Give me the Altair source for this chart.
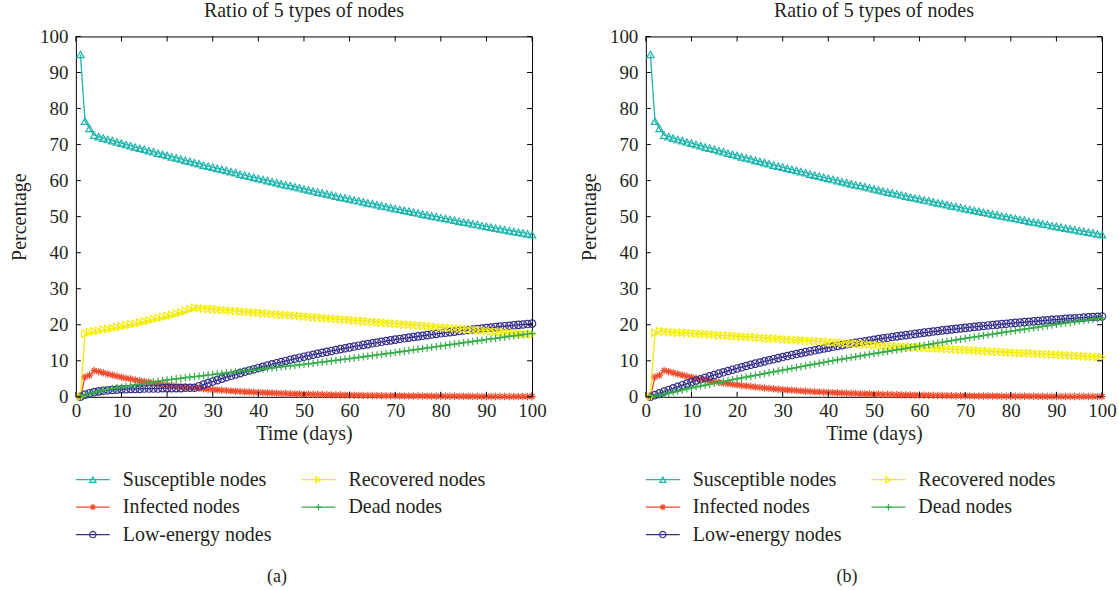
import altair as alt
import pandas as pd

# ---------------- data ----------------
days = list(range(1, 101))

susceptible = [
    95.0, 76.5, 74.5, 72.6, 72.2, 71.8, 71.4, 71.1, 70.7, 70.4,
    70.0, 69.7, 69.3, 69.0, 68.7, 68.3, 68.0, 67.6, 67.3, 67.0,
    66.6, 66.3, 66.0, 65.6, 65.3, 65.0, 64.7, 64.3, 64.0, 63.7,
    63.4, 63.1, 62.8, 62.5, 62.2, 61.8, 61.5, 61.2, 60.9, 60.6,
    60.3, 60.0, 59.7, 59.4, 59.1, 58.8, 58.6, 58.3, 58.0, 57.7,
    57.4, 57.1, 56.8, 56.6, 56.3, 56.0, 55.7, 55.4, 55.2, 54.9,
    54.6, 54.4, 54.1, 53.8, 53.6, 53.3, 53.0, 52.8, 52.5, 52.2,
    52.0, 51.7, 51.5, 51.2, 51.0, 50.7, 50.5, 50.2, 50.0, 49.7,
    49.5, 49.2, 49.0, 48.7, 48.5, 48.3, 48.0, 47.8, 47.5, 47.3,
    47.1, 46.8, 46.6, 46.4, 46.1, 45.9, 45.7, 45.5, 45.2, 45.0,
]

infected = [
    0.0, 5.5, 6.0, 7.3, 7.0, 6.66, 6.33, 6.02, 5.73, 5.45,
    5.18, 4.93, 4.69, 4.46, 4.24, 4.04, 3.84, 3.65, 3.48, 3.31,
    3.15, 2.99, 2.85, 2.71, 2.58, 2.45, 2.33, 2.22, 2.11, 2.00,
    1.91, 1.81, 1.73, 1.64, 1.56, 1.49, 1.41, 1.34, 1.28, 1.22,
    1.16, 1.10, 1.05, 1.00, 0.95, 0.90, 0.86, 0.82, 0.78, 0.74,
    0.70, 0.67, 0.64, 0.61, 0.58, 0.55, 0.52, 0.50, 0.47, 0.45,
    0.43, 0.41, 0.39, 0.37, 0.35, 0.33, 0.32, 0.30, 0.29, 0.27,
    0.26, 0.25, 0.23, 0.22, 0.21, 0.20, 0.19, 0.18, 0.17, 0.16,
    0.16, 0.15, 0.14, 0.13, 0.13, 0.12, 0.11, 0.11, 0.10, 0.10,
    0.09, 0.09, 0.08, 0.08, 0.08, 0.07, 0.07, 0.07, 0.06, 0.06,
]

low_energy_a = [
    0.0, 0.6, 1.0, 1.3, 1.5, 1.7, 1.8, 1.9, 2.0, 2.1,
    2.1, 2.2, 2.2, 2.2, 2.3, 2.3, 2.3, 2.3, 2.4, 2.4,
    2.4, 2.4, 2.4, 2.5, 2.5, 2.5, 2.94, 3.38, 3.81, 4.23,
    4.64, 5.04, 5.44, 5.83, 6.21, 6.58, 6.95, 7.31, 7.66, 8.01,
    8.35, 8.68, 9.01, 9.33, 9.65, 9.96, 10.27, 10.57, 10.85, 11.13,
    11.41, 11.68, 11.95, 12.21, 12.47, 12.73, 12.98, 13.23, 13.48, 13.72,
    13.95, 14.18, 14.41, 14.63, 14.85, 15.06, 15.27, 15.47, 15.67, 15.86,
    16.05, 16.24, 16.42, 16.60, 16.78, 16.95, 17.13, 17.30, 17.47, 17.63,
    17.79, 17.95, 18.10, 18.25, 18.40, 18.54, 18.68, 18.82, 18.96, 19.09,
    19.22, 19.35, 19.47, 19.60, 19.72, 19.84, 19.96, 20.07, 20.19, 20.30,
]

recovered_a = [
    0.0, 17.5, 17.9, 18.1, 18.3, 18.6, 18.8, 19.0, 19.3, 19.5,
    19.8, 20.1, 20.3, 20.6, 20.9, 21.2, 21.5, 21.8, 22.1, 22.4,
    22.7, 23.1, 23.4, 23.8, 24.2, 24.7, 24.6, 24.5, 24.4, 24.3,
    24.2, 24.1, 24.0, 23.9, 23.8, 23.7, 23.6, 23.5, 23.4, 23.3,
    23.2, 23.1, 23.0, 22.9, 22.8, 22.7, 22.6, 22.5, 22.4, 22.3,
    22.2, 22.1, 22.0, 21.9, 21.8, 21.7, 21.6, 21.5, 21.4, 21.3,
    21.2, 21.1, 21.0, 20.9, 20.8, 20.7, 20.6, 20.5, 20.4, 20.3,
    20.2, 20.1, 20.0, 19.9, 19.8, 19.7, 19.6, 19.5, 19.4, 19.3,
    19.2, 19.1, 19.0, 18.9, 18.8, 18.7, 18.6, 18.5, 18.4, 18.3,
    18.2, 18.1, 18.0, 17.9, 17.8, 17.7, 17.6, 17.5, 17.4, 17.3,
]

dead_a = [
    0.0, 0.5, 0.9, 1.2, 1.5, 1.8, 2.0, 2.3, 2.5, 2.7,
    2.9, 3.1, 3.3, 3.5, 3.7, 3.9, 4.1, 4.3, 4.5, 4.7,
    4.85, 5.0, 5.15, 5.3, 5.45, 5.6, 5.75, 5.9, 6.05, 6.2,
    6.34, 6.48, 6.62, 6.76, 6.90, 7.04, 7.18, 7.32, 7.46, 7.6,
    7.74, 7.88, 8.02, 8.16, 8.30, 8.44, 8.58, 8.72, 8.86, 9.0,
    9.16, 9.32, 9.48, 9.64, 9.80, 9.96, 10.12, 10.28, 10.44, 10.6,
    10.77, 10.94, 11.11, 11.28, 11.45, 11.62, 11.79, 11.96, 12.13, 12.3,
    12.48, 12.66, 12.84, 13.02, 13.20, 13.38, 13.56, 13.74, 13.92, 14.1,
    14.28, 14.46, 14.64, 14.82, 15.0, 15.18, 15.36, 15.54, 15.72, 15.9,
    16.07, 16.24, 16.41, 16.58, 16.75, 16.92, 17.09, 17.26, 17.43, 17.6,
]

low_energy_b = [
    0.0, 0.49, 0.96, 1.43, 1.89, 2.34, 2.79, 3.22, 3.65, 4.07,
    4.49, 4.89, 5.29, 5.68, 6.06, 6.43, 6.80, 7.17, 7.52, 7.87,
    8.21, 8.55, 8.88, 9.20, 9.52, 9.83, 10.14, 10.44, 10.73, 11.03,
    11.31, 11.59, 11.87, 12.13, 12.40, 12.66, 12.91, 13.16, 13.41, 13.65,
    13.88, 14.12, 14.34, 14.57, 14.79, 15.00, 15.22, 15.42, 15.63, 15.83,
    16.02, 16.22, 16.41, 16.59, 16.77, 16.95, 17.13, 17.30, 17.47, 17.64,
    17.80, 17.96, 18.12, 18.27, 18.43, 18.57, 18.72, 18.86, 19.00, 19.14,
    19.28, 19.41, 19.54, 19.67, 19.80, 19.92, 20.04, 20.16, 20.28, 20.40,
    20.51, 20.62, 20.73, 20.83, 20.94, 21.04, 21.14, 21.24, 21.34, 21.43,
    21.53, 21.62, 21.71, 21.80, 21.89, 21.97, 22.06, 22.14, 22.22, 22.30,
]

recovered_b = [
    0.0, 17.8, 18.2, 18.1, 18.0, 17.9, 17.8, 17.8, 17.7, 17.6,
    17.5, 17.4, 17.4, 17.3, 17.2, 17.1, 17.0, 17.0, 16.9, 16.8,
    16.7, 16.6, 16.6, 16.5, 16.4, 16.3, 16.2, 16.2, 16.1, 16.0,
    15.9, 15.8, 15.8, 15.7, 15.6, 15.5, 15.4, 15.4, 15.3, 15.2,
    15.1, 15.0, 15.0, 14.9, 14.8, 14.7, 14.6, 14.6, 14.5, 14.4,
    14.33, 14.26, 14.19, 14.12, 14.05, 13.98, 13.91, 13.84, 13.77, 13.7,
    13.63, 13.56, 13.49, 13.42, 13.35, 13.28, 13.21, 13.14, 13.07, 13.0,
    12.93, 12.86, 12.79, 12.72, 12.65, 12.58, 12.51, 12.44, 12.37, 12.3,
    12.24, 12.18, 12.12, 12.06, 12.0, 11.94, 11.88, 11.82, 11.76, 11.7,
    11.63, 11.56, 11.49, 11.42, 11.35, 11.28, 11.21, 11.14, 11.07, 11.0,
]

dead_b = [
    0.0, 0.2, 0.5, 0.8, 1.0, 1.3, 1.6, 1.9, 2.2, 2.5,
    2.75, 3.0, 3.25, 3.5, 3.75, 4.0, 4.25, 4.5, 4.75, 5.0,
    5.24, 5.48, 5.72, 5.96, 6.20, 6.44, 6.68, 6.92, 7.16, 7.4,
    7.64, 7.88, 8.12, 8.36, 8.60, 8.84, 9.08, 9.32, 9.56, 9.8,
    10.02, 10.24, 10.46, 10.68, 10.90, 11.12, 11.34, 11.56, 11.78, 12.0,
    12.21, 12.42, 12.63, 12.84, 13.05, 13.26, 13.47, 13.68, 13.89, 14.1,
    14.31, 14.52, 14.73, 14.94, 15.15, 15.36, 15.57, 15.78, 15.99, 16.2,
    16.4, 16.6, 16.8, 17.0, 17.2, 17.4, 17.6, 17.8, 18.0, 18.2,
    18.39, 18.58, 18.77, 18.96, 19.15, 19.34, 19.53, 19.72, 19.91, 20.1,
    20.28, 20.46, 20.64, 20.82, 21.0, 21.18, 21.36, 21.54, 21.72, 21.9,
]

names = ["Susceptible nodes", "Infected nodes", "Low-energy nodes",
         "Recovered nodes", "Dead nodes"]
legend_order = ["Susceptible nodes", "Recovered nodes", "Infected nodes",
                "Dead nodes", "Low-energy nodes"]
x_ticks = list(range(0, 101, 10))
y_ticks = list(range(0, 101, 10))
panel_title = "Ratio of 5 types of nodes"
captions = ["(a)", "(b)"]

# ---------------- styles ----------------
ASTERISK = "M-1,0L1,0M0,-1L0,1M-0.7,-0.7L0.7,0.7M-0.7,0.7L0.7,-0.7"
PLUS = "M-1,0L1,0M0,-1L0,1"
colors = ["#1db5ad", "#f04b2b", "#352f8e", "#f3ec00", "#35ad48"]
shapes = ["triangle-up", ASTERISK, "circle", "triangle-right", PLUS]
FONT = "Liberation Serif"
TEXT = "#231f20"
W, H = 457, 361
TICK = 5

color_scale = alt.Scale(domain=names, range=colors)
shape_scale = alt.Scale(domain=names, range=shapes)


def long_df(series_list):
    rows = []
    for name, vals in zip(names, series_list):
        for d, v in zip(days, vals):
            rows.append({"day": d, "value": v, "series": name})
    return pd.DataFrame(rows)


def main_chart(df):
    xs = alt.Scale(domain=[0, 100], nice=False)
    ys = alt.Scale(domain=[0, 100], nice=False)
    xaxis = alt.Axis(title="Time (days)", values=x_ticks, ticks=False, domain=False,
                     grid=False, labelPadding=5, titlePadding=3, format="d",
                     labelFlush=False)
    yaxis = alt.Axis(title="Percentage", values=y_ticks, ticks=False, domain=False,
                     grid=False, labelPadding=8, titlePadding=10, format="d",
                     labelFlush=False)
    base = alt.Chart(df).encode(
        x=alt.X("day:Q", scale=xs, axis=xaxis),
        y=alt.Y("value:Q", scale=ys, axis=yaxis),
        color=alt.Color("series:N", scale=color_scale, legend=None),
    )
    lines = base.mark_line(strokeWidth=1.3)
    points = base.mark_point(filled=False, size=55, strokeWidth=1.2, opacity=1).encode(
        shape=alt.Shape("series:N", scale=shape_scale, legend=None)
    )
    xt = pd.DataFrame({"day": x_ticks})
    yt = pd.DataFrame({"value": y_ticks})
    top = alt.Chart(xt).mark_rule(color="black", strokeWidth=1).encode(
        x=alt.X("day:Q", scale=xs, axis=xaxis), y=alt.value(0), y2=alt.value(TICK))
    bottom = alt.Chart(xt).mark_rule(color="black", strokeWidth=1).encode(
        x=alt.X("day:Q", scale=xs, axis=xaxis), y=alt.value(H - TICK), y2=alt.value(H))
    left = alt.Chart(yt).mark_rule(color="black", strokeWidth=1).encode(
        y=alt.Y("value:Q", scale=ys, axis=yaxis), x=alt.value(0), x2=alt.value(TICK))
    right = alt.Chart(yt).mark_rule(color="black", strokeWidth=1).encode(
        y=alt.Y("value:Q", scale=ys, axis=yaxis), x=alt.value(W - TICK), x2=alt.value(W))
    return alt.layer(lines, points, top, bottom, left, right).properties(
        width=W, height=H,
        title=alt.TitleParams(panel_title, fontSize=20, font=FONT, fontWeight="normal",
                              color=TEXT, offset=6, anchor="middle"),
        view=alt.ViewBackground(stroke="black", strokeWidth=1),
    )


def legend_chart(caption):
    ldf = pd.DataFrame({"series": legend_order})
    ldf["col"] = [i % 2 for i in range(len(legend_order))]
    ldf["row"] = [i // 2 for i in range(len(legend_order))]
    lx = alt.X("col:Q", scale=alt.Scale(domain=[0, 1], range=[17, 243]), axis=None)
    ly = alt.Y("row:Q", scale=alt.Scale(domain=[0, 2], range=[0, 55]), axis=None)
    col = alt.Color("series:N", scale=color_scale, legend=None)
    seg = alt.Chart(ldf).mark_point(shape="M-1,0L1,0", size=1156, strokeWidth=1.3,
                                    filled=False, opacity=1).encode(x=lx, y=ly, color=col)
    mk = alt.Chart(ldf).mark_point(filled=False, size=40, strokeWidth=1.2, opacity=1).encode(
        x=lx, y=ly, color=col, shape=alt.Shape("series:N", scale=shape_scale, legend=None))
    txt = alt.Chart(ldf).mark_text(align="left", baseline="middle", dx=30, fontSize=20,
                                   font=FONT, color=TEXT).encode(x=lx, y=ly, text="series:N")
    return alt.layer(seg, mk, txt).properties(
        width=W, height=55,
        title=alt.TitleParams(caption, orient="bottom", fontSize=18, font=FONT,
                              fontWeight="normal", color=TEXT, offset=24, dx=-27),
    )


panel_a = alt.vconcat(
    main_chart(long_df([susceptible, infected, low_energy_a, recovered_a, dead_a])),
    legend_chart(captions[0]), spacing=24)
panel_b = alt.vconcat(
    main_chart(long_df([susceptible, infected, low_energy_b, recovered_b, dead_b])),
    legend_chart(captions[1]), spacing=24)

chart = alt.hconcat(panel_a, panel_b, spacing=32).properties(
    padding={"left": 9, "top": 0, "right": 2, "bottom": 2}
).configure_view(stroke="transparent").configure_axis(
    labelFont=FONT, labelFontSize=19, labelColor=TEXT,
    titleFont=FONT, titleFontSize=20, titleFontWeight="normal", titleColor=TEXT,
)

chart.save("out.html", embed_options={"renderer": "svg", "actions": False})
